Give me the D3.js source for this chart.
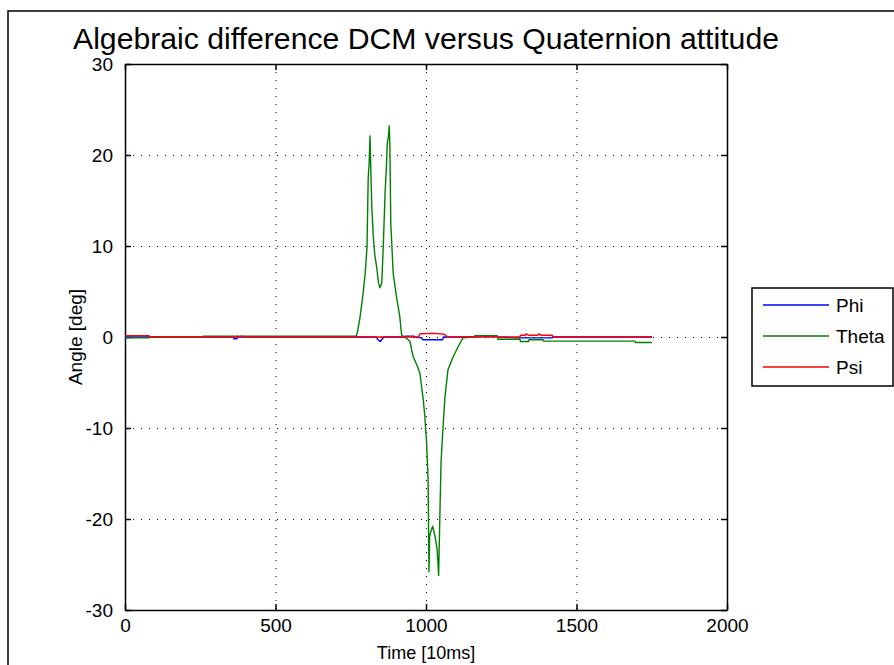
<!DOCTYPE html>
<html><head><meta charset="utf-8">
<script src="https://cdn.jsdelivr.net/npm/d3@7"></script>
<style>body{margin:0;background:#fff}svg{display:block}text{font-family:"Liberation Sans",Arial,sans-serif;fill:#000}</style>
</head><body>
<script>
const title = "Algebraic difference DCM versus Quaternion attitude";
const xLabel = "Time [10ms]";
const yLabel = "Angle [deg]";
const xTicks = [0, 500, 1000, 1500, 2000];
const yTicks = [-30, -20, -10, 0, 10, 20, 30];
const seriesNames = ["Phi", "Theta", "Psi"];
const seriesColors = ["#0000ff", "#008000", "#ff0000"];

const phiT = [0,360,362,372,374,835,840,848,855,860,930,932,960,962,985,990,1055,1058,1160,1163,1236,1239,1312,1420,1422,1751];
const phiV = [0,0,-0.2,-0.2,0,0,-0.3,-0.5,-0.2,0,0,0.1,0.1,0,-0.1,-0.3,-0.3,0,0,0.1,0.1,0,-0.1,-0.1,0,0];

const thetaT = [0,78,80,258,260,768,772,780,790,798,804,808,811,814,817,820,825,830,836,842,847,853,858,864,869,871,875,878,880,883,891,902,913,919,930,947,952,958,970,980,985,991,996,1002,1007,1010,1012,1015,1022,1030,1037,1042,1046,1050,1056,1063,1073,1090,1106,1123,1160,1163,1236,1239,1312,1314,1340,1342,1389,1391,1694,1696,1751];
const thetaV = [-0.1,-0.1,0,0,0.1,0.1,0.5,2,4.5,7,9.9,17.5,19,22.1,18,14.2,11,9,7.7,6,5.4,5.9,9.9,15.8,19,21.2,22,23.2,21,12.5,7,4.4,2.2,0.2,0,-0.5,-1.4,-2.2,-3.1,-4,-5.4,-6.9,-8.7,-11.6,-15.7,-25.8,-22,-21.5,-20.8,-21.9,-23.3,-26.2,-19.7,-13.8,-10.2,-6.6,-3.6,-2.2,-1.1,-0.1,0,0.15,0.15,-0.25,-0.25,-0.5,-0.5,-0.3,-0.3,-0.45,-0.45,-0.6,-0.6];

const psiT = [0,80,82,370,372,380,390,395,975,980,1030,1060,1073,1312,1314,1330,1333,1340,1372,1375,1382,1420,1422,1751];
const psiV = [0.15,0.15,0,0,0.1,0,0.1,0,0,0.35,0.4,0.3,0,0,0.2,0.2,0.35,0.2,0.2,0.35,0.2,0.2,0,0];

const W = 894, H = 665;
const svg = d3.select("body").append("svg").attr("width", W).attr("height", H);

// figure frame
svg.append("path").attr("d", `M8,${H+2}V11H${W+2}`).attr("fill","none").attr("stroke","#000").attr("stroke-width",1.5);

const L = 125, R = 727, T = 64, B = 610;
const x = d3.scaleLinear().domain([0, 2000]).range([L, R]);
const y = d3.scaleLinear().domain([-30, 30]).range([B, T]);

// grid
const g = svg.append("g");
g.selectAll(".gx").data(xTicks.slice(1, -1)).join("line")
  .attr("x1", d => x(d)+0.5).attr("x2", d => x(d)+0.5).attr("y1", T).attr("y2", B)
  .attr("stroke", "#000").attr("stroke-width", 1).attr("stroke-dasharray", "1,7");
g.selectAll(".gy").data(yTicks.slice(1, -1)).join("line")
  .attr("y1", d => Math.round(y(d))+0.5).attr("y2", d => Math.round(y(d))+0.5).attr("x1", L).attr("x2", R)
  .attr("stroke", "#000").attr("stroke-width", 1).attr("stroke-dasharray", "1,7");

// axes with inside ticks
const tl = 6;
const fmt = d => String(d);
const axB = d3.axisBottom(x).tickValues(xTicks).tickSizeInner(-tl).tickSizeOuter(0).tickPadding(tl+3).tickFormat(fmt);
const axT = d3.axisTop(x).tickValues(xTicks).tickSizeInner(-tl).tickSizeOuter(0).tickFormat("");
const axL = d3.axisLeft(y).tickValues(yTicks).tickSizeInner(-tl).tickSizeOuter(0).tickPadding(tl+6).tickFormat(fmt);
const axR = d3.axisRight(y).tickValues(yTicks).tickSizeInner(-tl).tickSizeOuter(0).tickFormat("");
function styleAxis(sel){
  sel.select(".domain").attr("stroke","#000").attr("stroke-width",1.5);
  sel.selectAll(".tick line").attr("stroke","#000").attr("stroke-width",1.5);
  sel.selectAll(".tick text").attr("font-size",19).attr("font-family","Liberation Sans, Arial, sans-serif").attr("fill","#000");
}
svg.append("g").attr("transform",`translate(0,${B})`).call(axB).call(styleAxis);
svg.append("g").attr("transform",`translate(0,${T})`).call(axT).call(styleAxis);
svg.append("g").attr("transform",`translate(${L},0)`).call(axL).call(styleAxis);
svg.append("g").attr("transform",`translate(${R},0)`).call(axR).call(styleAxis);

// series
const series = [
  {t: phiT, v: phiV},
  {t: thetaT, v: thetaV},
  {t: psiT, v: psiV}
];
const line = d3.line().x(d => x(d[0])).y(d => y(d[1]));
series.forEach((s, i) => {
  const pts = s.t.map((t, k) => [t, s.v[k]]);
  svg.append("path").datum(pts).attr("d", line).attr("fill","none")
    .attr("stroke", seriesColors[i]).attr("stroke-width", 1.4).attr("stroke-linejoin","round");
});

// title and labels
svg.append("text").attr("x", (L+R)/2).attr("y", 49).attr("text-anchor","middle")
  .attr("font-size", 30).attr("textLength", 706).attr("lengthAdjust","spacingAndGlyphs").text(title);
svg.append("text").attr("x", (L+R)/2).attr("y", 659).attr("text-anchor","middle")
  .attr("font-size", 18).text(xLabel);
svg.append("text").attr("transform", `translate(82,${(T+B)/2}) rotate(-90)`).attr("text-anchor","middle")
  .attr("font-size", 19).text(yLabel);

// legend
const lg = svg.append("g");
lg.append("rect").attr("x", 752).attr("y", 288).attr("width", 141).attr("height", 98)
  .attr("fill","#fff").attr("stroke","#000").attr("stroke-width",1.5);
const ly = d3.scalePoint().domain(seriesNames).range([305, 367]);
seriesNames.forEach((n, i) => {
  lg.append("line").attr("x1", 763).attr("x2", 829).attr("y1", ly(n)).attr("y2", ly(n))
    .attr("stroke", seriesColors[i]).attr("stroke-width", 1.5);
  lg.append("text").attr("x", 836).attr("y", ly(n) + 7).attr("font-size", 19).text(n);
});
</script>
</body></html>
